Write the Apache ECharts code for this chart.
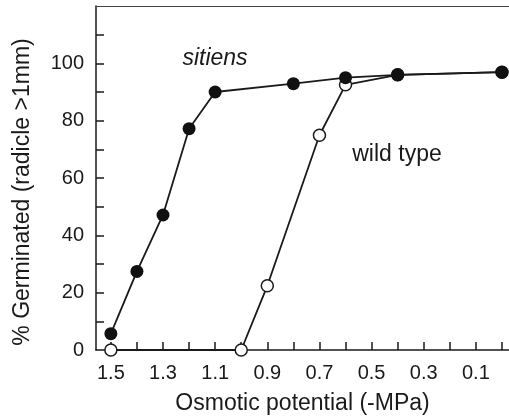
<!DOCTYPE html>
<html lang="en">
  <head>
    <meta charset="UTF-8" />
    <title>germination</title>
    <style>
      html, body { margin: 0; padding: 0; background: #fff; }
      #chart { width: 509px; height: 416px; }
    </style>
  </head>
  <body>
    <div id="chart"></div>
    <script src="https://cdn.jsdelivr.net/npm/echarts@6/dist/echarts.min.js"></script>
    <script>
      // osmotic potential (-MPa) and % germinated
      const sitiensX = [1.5, 1.4, 1.3, 1.2, 1.1, 0.8, 0.6, 0.4, 0.0];
      const sitiensY = [5.7, 27.4, 47.1, 77.2, 90.0, 92.9, 95.0, 96.0, 96.9];
      const wildX = [1.5, 1.0, 0.9, 0.7, 0.6, 0.4, 0.0];
      const wildY = [0, 0, 22.4, 74.9, 92.5, 96.0, 96.9];

      const xTicks = [0, 0.1, 0.2, 0.3, 0.4, 0.5, 0.6, 0.7, 0.8, 0.9, 1.0, 1.1, 1.2, 1.3, 1.4, 1.5];
      const xLabels = [1.5, 1.3, 1.1, 0.9, 0.7, 0.5, 0.3, 0.1];
      const yTicks = [10, 20, 30, 40, 50, 60, 70, 80, 90, 100, 110];
      const yLabels = [0, 20, 40, 60, 80, 100];

      const font = "Liberation Sans";
      const ink = "#1a1a1a";

      const pairs = (xs, ys) => xs.map((x, i) => [x, ys[i]]);

      let mchart = echarts.init(document.getElementById("chart"));
      let option = {
        animation: false,
        grid: { left: 96, top: 6, right: 0, bottom: 66, outerBoundsMode: "none" },
        xAxis: [
          {
            type: "value",
            min: -0.027,
            max: 1.557,
            inverse: true,
            splitLine: { show: false },
            axisLine: { onZero: false, lineStyle: { color: ink, width: 1.5 } },
            axisTick: {
              inside: true,
              length: 8,
              customValues: xTicks,
              lineStyle: { color: ink, width: 1.5 },
            },
            axisLabel: {
              customValues: xLabels,
              margin: 13,
              fontFamily: font,
              fontSize: 20,
              color: ink,
              formatter: (v) => v.toFixed(1),
            },
            name: "Osmotic potential (-MPa)",
            nameLocation: "middle",
            nameGap: 42,
            nameTextStyle: { fontFamily: font, fontSize: 23, color: ink },
          },
          {
            // top frame line
            type: "value",
            position: "top",
            min: -0.027,
            max: 1.557,
            inverse: true,
            splitLine: { show: false },
            axisLine: { onZero: false, lineStyle: { color: "#444", width: 1 } },
            axisTick: { show: false },
            axisLabel: { show: false },
          },
        ],
        yAxis: {
          type: "value",
          position: "left",
          min: 0,
          max: 120,
          splitLine: { show: false },
          axisLine: { show: true, onZero: false, lineStyle: { color: ink, width: 1.5 } },
          axisTick: {
            show: true,
            inside: true,
            length: 8,
            customValues: yTicks,
            lineStyle: { color: ink, width: 1.5 },
          },
          axisLabel: {
            customValues: yLabels,
            margin: 12,
            fontFamily: font,
            fontSize: 20,
            color: ink,
          },
          name: "% Germinated (radicle >1mm)",
          nameLocation: "middle",
          nameGap: 62,
          nameTextStyle: {
            fontFamily: font,
            fontSize: 23,
            color: ink,
            padding: [0, 28, 0, 0],
          },
        },
        series: [
          {
            name: "wild type",
            type: "line",
            data: pairs(wildX, wildY),
            symbol: "circle",
            symbolSize: 12,
            itemStyle: { color: "#fff", borderColor: ink, borderWidth: 1.5 },
            lineStyle: { color: ink, width: 1.8 },
            z: 2,
          },
          {
            name: "sitiens",
            type: "line",
            data: pairs(sitiensX, sitiensY),
            symbol: "circle",
            symbolSize: 13,
            itemStyle: { color: "#111", borderColor: "#111", borderWidth: 0 },
            lineStyle: { color: ink, width: 1.8 },
            z: 3,
          },
        ],
        graphic: [
          {
            type: "text",
            x: 215,
            y: 59,
            style: {
              text: "sitiens",
              fontFamily: font,
              fontStyle: "italic",
              fontSize: 23,
              fill: ink,
              align: "center",
              verticalAlign: "middle",
            },
          },
          {
            type: "text",
            x: 397,
            y: 155,
            style: {
              text: "wild type",
              fontFamily: font,
              fontSize: 23,
              fill: ink,
              align: "center",
              verticalAlign: "middle",
            },
          },
        ],
      };
      mchart.setOption(option);
    </script>
  </body>
</html>
